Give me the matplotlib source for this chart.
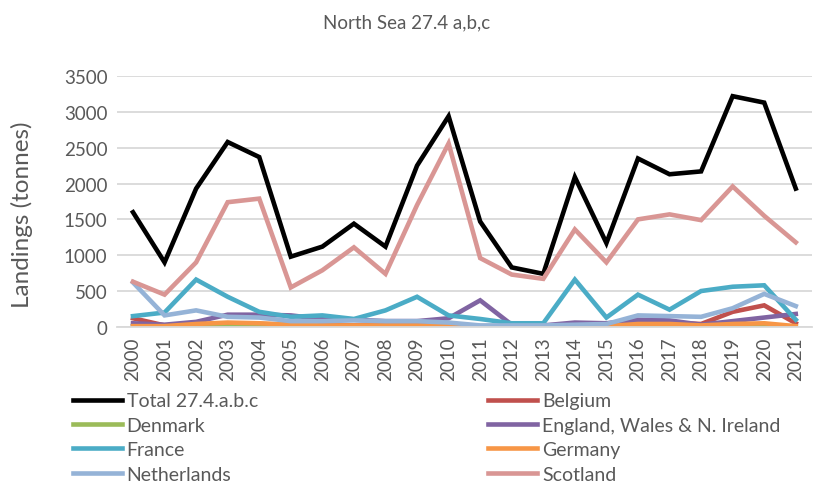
import matplotlib.pyplot as plt

years = [str(y) for y in range(2000, 2022)]

total = [1600, 900, 1930, 2580, 2370, 980, 1120, 1440, 1120, 2250, 2940,
         1470, 830, 740, 2090, 1170, 2350, 2130, 2170, 3220, 3130, 1930]
belgium = [120, 20, 30, 50, 40, 30, 20, 20, 20, 20, 20,
           10, 10, 10, 20, 20, 60, 60, 40, 210, 300, 50]
denmark = [5, 5, 5, 5, 5, 5, 5, 5, 5, 5, 5,
           3, 3, 3, 3, 3, 5, 5, 5, 5, 5, 5]
england = [50, 30, 70, 170, 170, 160, 110, 100, 80, 80, 120,
           370, 30, 20, 60, 50, 100, 90, 30, 80, 130, 180]
france = [150, 200, 660, 420, 210, 140, 160, 110, 230, 420, 160,
          110, 50, 50, 660, 130, 450, 240, 500, 560, 580, 100]
germany = [10, 10, 40, 60, 50, 30, 20, 20, 20, 20, 10,
           5, 5, 5, 10, 10, 40, 40, 20, 40, 50, 10]
netherlands = [620, 160, 230, 140, 130, 80, 80, 90, 80, 80, 60,
               20, 20, 20, 30, 40, 160, 150, 140, 260, 460, 290]
scotland = [630, 450, 900, 1740, 1790, 550, 790, 1110, 740, 1700, 2560,
            960, 730, 670, 1360, 900, 1500, 1570, 1490, 1960, 1550, 1180]

series = [
    ("Total 27.4.a.b.c", total, "#000000"),
    ("Belgium", belgium, "#C0504D"),
    ("Denmark", denmark, "#9BBB59"),
    ("England, Wales & N. Ireland", england, "#8064A2"),
    ("France", france, "#4BACC6"),
    ("Germany", germany, "#F79646"),
    ("Netherlands", netherlands, "#95B3D7"),
    ("Scotland", scotland, "#D99694"),
]

grey = "#595959"
plt.rcParams['font.family'] = ['Lato', 'DejaVu Sans']

fig = plt.figure(figsize=(8.14, 4.85), dpi=100)
ax = fig.add_axes([0.144, 0.324, 0.853, 0.517])

x = list(range(len(years)))
lines = {}
for name, vals, col in series:
    ln, = ax.plot(x, vals, color=col, lw=3.3, label=name, solid_joinstyle='miter')
    lines[name] = ln

ax.set_xlim(-0.5, len(years) - 0.5)
ax.set_ylim(0, 3500)
ax.set_yticks(range(0, 3501, 500))
ax.set_xticks(x)
ax.set_xticklabels(years, rotation=90)
ax.yaxis.grid(True, color="#D9D9D9", lw=1.3)
ax.set_axisbelow(True)
for s in ["top", "right", "left"]:
    ax.spines[s].set_visible(False)
ax.spines["bottom"].set_color("#D9D9D9")
ax.spines["bottom"].set_linewidth(1.3)
ax.tick_params(axis="both", length=0, labelsize=13.5, colors=grey, pad=7)
ax.set_ylabel("Landings (tonnes)", fontsize=17.5, color=grey)
ax.yaxis.set_label_coords(-0.122, 0.45)

fig.text(0.5, 0.953, "North Sea 27.4 a,b,c", ha="center", va="center",
         fontsize=13.5, color=grey)

leg_font = {"size": 14}
col1 = ["Total 27.4.a.b.c", "Denmark", "France", "Netherlands"]
col2 = ["Belgium", "England, Wales & N. Ireland", "Germany", "Scotland"]
for names, xpos in [(col1, 0.090), (col2, 0.600)]:
    leg = fig.legend([lines[n] for n in names], names, loc="upper left",
                     bbox_to_anchor=(xpos, 0.189), frameon=False, prop=leg_font,
                     handlelength=2.5, handletextpad=0.25, labelspacing=0.38,
                     borderaxespad=0, borderpad=0)
    for t in leg.get_texts():
        t.set_color(grey)

fig.savefig("out.png", dpi=100)
